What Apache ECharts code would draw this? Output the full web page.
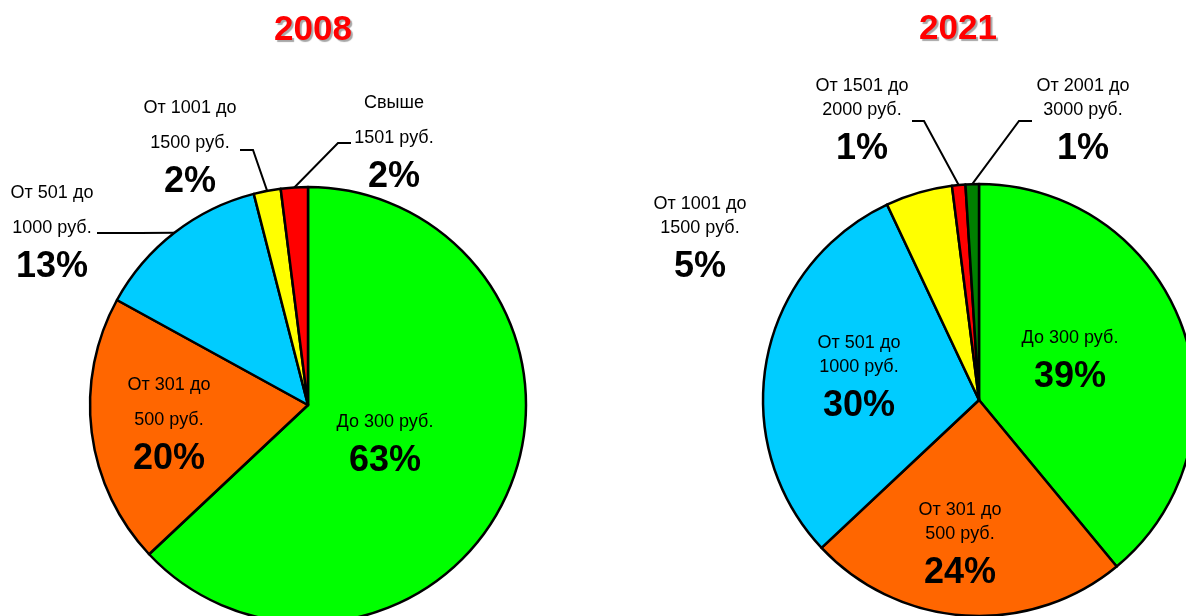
<!DOCTYPE html>
<html>
<head>
<meta charset="utf-8">
<script src="https://cdn.jsdelivr.net/npm/echarts@6/dist/echarts.min.js"></script>
<style>
  html, body { margin: 0; padding: 0; background: #fff; }
  #chart { width: 1186px; height: 616px; }
</style>
</head>
<body>
<div id="chart"></div>
<script>
// Price bands, share of purchases (%), two survey years
const years = ['2008', '2021'];

const names2008 = ['До 300 руб.', 'От 301 до\n500 руб.', 'От 501 до\n1000 руб.', 'От 1001 до\n1500 руб.', 'Свыше\n1501 руб.'];
const values2008 = [63, 20, 13, 2, 2];

const names2021 = ['До 300 руб.', 'От 301 до\n500 руб.', 'От 501 до\n1000 руб.', 'От 1001 до\n1500 руб.', 'От 1501 до\n2000 руб.', 'От 2001 до\n3000 руб.'];
const values2021 = [39, 24, 30, 5, 1, 1];

const colors2008 = ['#00FF00', '#FF6600', '#00CCFF', '#FFFF00', '#FF0000'];
const colors2021 = ['#00FF00', '#FF6600', '#00CCFF', '#FFFF00', '#FF0000', '#008000'];

// Label placement: text block centre x, first-line centre y, inside/outside,
// and leader line [endX, endY, elbowX] (the line starts on the slice arc).
const labelPlaces2008 = [
  { x: 385, y: 422, inside: true },
  { x: 169, y: 385, inside: true },
  { x: 52,  y: 193, inside: false, line: [97, 233, 140] },
  { x: 190, y: 108, inside: false, line: [240, 150, 253] },
  { x: 394, y: 103, inside: false, line: [351, 143, 338] }
];
const labelPlaces2021 = [
  { x: 1070, y: 338, inside: true },
  { x: 960,  y: 510, inside: true },
  { x: 859,  y: 343, inside: true },
  { x: 700,  y: 204, inside: false, line: null },
  { x: 862,  y: 86,  inside: false, line: [912, 121, 924] },
  { x: 1083, y: 86,  inside: false, line: [1032, 121, 1019] }
];

const FONT = '"Liberation Sans", Arial, Helvetica, sans-serif';

function buildData(names, values, colors, places) {
  return names.map((name, i) => {
    const pl = places[i];
    return {
      name: name,
      value: values[i],
      itemStyle: { color: colors[i] },
      label: { position: pl.inside ? 'inside' : 'outside' },
      labelLine: { show: !pl.inside && !!pl.line }
    };
  });
}

function labelFormatter(p) {
  return p.name.split('\n').map(s => '{n|' + s + '}').join('\n') + '\n{p|' + p.value + '%}';
}

function makeLayout(places, nameLineHeight) {
  return function (params) {
    const pl = places[params.dataIndex];
    const res = {
      x: pl.x,
      y: pl.y - nameLineHeight / 2,
      align: 'center',
      verticalAlign: 'top'
    };
    if (pl.line) {
      const pts = params.labelLinePoints;
      if (pts && pts[0]) {
        res.labelLinePoints = [
          pts[0],
          [pl.line[2], pl.line[1]],
          [pl.line[0], pl.line[1]]
        ];
      }
    }
    return res;
  };
}

function pieSeries(center, radius, names, values, colors, places, nameLH, pctLH) {
  return {
    type: 'pie',
    center: center,
    radius: radius,
    startAngle: 90,
    clockwise: true,
    avoidLabelOverlap: false,
    animation: false,
    silent: true,
    itemStyle: { borderColor: '#000000', borderWidth: 2.5 },
    label: {
      show: true,
      position: 'outside',
      formatter: labelFormatter,
      color: '#000000',
      rich: {
        n: { fontFamily: FONT, fontSize: 18, color: '#000000', lineHeight: nameLH },
        p: { fontFamily: FONT, fontSize: 36, fontWeight: 'bold', color: '#000000', lineHeight: pctLH }
      }
    },
    labelLine: {
      show: true,
      length: 20,
      length2: 15,
      lineStyle: { color: '#000000', width: 2 }
    },
    emphasis: { disabled: true },
    labelLayout: makeLayout(places, nameLH),
    data: buildData(names, values, colors, places)
  };
}

const chart = echarts.init(document.getElementById('chart'), null, { renderer: 'canvas' });

const titleStyle = {
  color: '#FF0000',
  fontFamily: FONT,
  fontSize: 35,
  fontWeight: 'bold',
  textShadowColor: 'rgba(0,0,0,0.35)',
  textShadowOffsetX: 2,
  textShadowOffsetY: 2,
  textShadowBlur: 1
};

chart.setOption({
  backgroundColor: '#ffffff',
  title: [
    { text: years[0], left: 313, top: 13, textAlign: 'center', padding: 0, textStyle: titleStyle },
    { text: years[1], left: 958, top: 12, textAlign: 'center', padding: 0, textStyle: titleStyle }
  ],
  series: [
    pieSeries([308, 405], 218, names2008, values2008, colors2008, labelPlaces2008, 35, 43),
    pieSeries([979, 400], 216, names2021, values2021, colors2021, labelPlaces2021, 24, 54)
  ]
});
</script>
</body>
</html>
